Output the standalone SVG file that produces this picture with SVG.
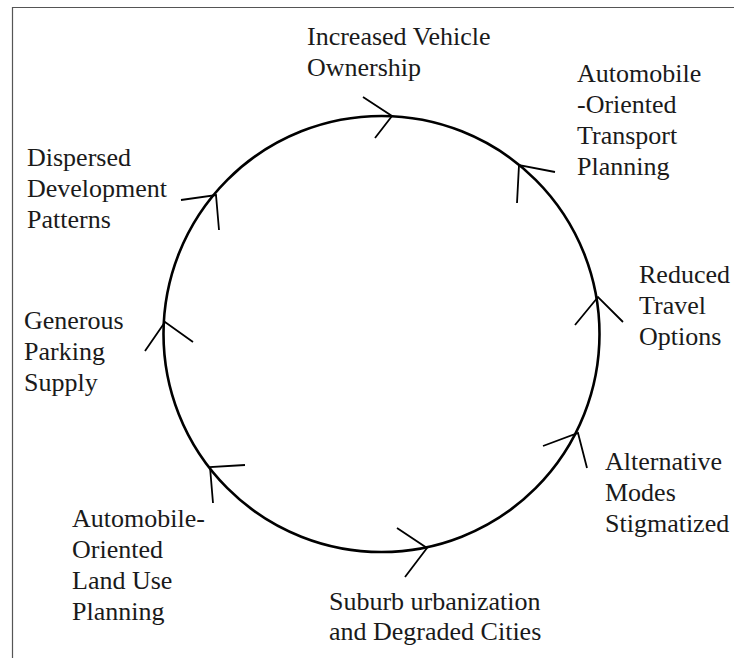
<svg xmlns="http://www.w3.org/2000/svg" width="734" height="658" viewBox="0 0 734 658">
<rect width="734" height="658" fill="#fff"/>
<path d="M12.5,658 V7.5 H734" fill="none" stroke="#555" stroke-width="1.2"/>
<g id="connectors" fill="none" stroke="#000">
<circle cx="381.5" cy="334" r="218" stroke-width="2.6"/>
<g stroke-width="1.8">
<path d="M363,97 L392,116 L375,138"/>
<path d="M555,172 L519,165 L517,203"/>
<path d="M575,325 L598,297 L623,322"/>
<path d="M543,446 L578,433 L587,468"/>
<path d="M397,528 L427,548 L405,577"/>
<path d="M245,465 L210,467 L213,503"/>
<path d="M145,351 L165,322 L193,342"/>
<path d="M181,200 L216,195 L219,230"/>
</g>
</g>
<g id="labels" fill="#1a1a1a">
<g id="n1"><text style="font-family:'Liberation Serif' !important;font-size:26px !important" x="307" y="45">Increased Vehicle</text><text style="font-family:'Liberation Serif' !important;font-size:26px !important" x="307" y="76">Ownership</text></g>
<g id="n2"><text style="font-family:'Liberation Serif' !important;font-size:26px !important" x="577" y="82">Automobile</text><text style="font-family:'Liberation Serif' !important;font-size:26px !important" x="577" y="113">-Oriented</text><text style="font-family:'Liberation Serif' !important;font-size:26px !important" x="577" y="144">Transport</text><text style="font-family:'Liberation Serif' !important;font-size:26px !important" x="577" y="175">Planning</text></g>
<g id="n3"><text style="font-family:'Liberation Serif' !important;font-size:26px !important" x="639" y="283">Reduced</text><text style="font-family:'Liberation Serif' !important;font-size:26px !important" x="639" y="314">Travel</text><text style="font-family:'Liberation Serif' !important;font-size:26px !important" x="639" y="345">Options</text></g>
<g id="n4"><text style="font-family:'Liberation Serif' !important;font-size:26px !important" x="605" y="470">Alternative</text><text style="font-family:'Liberation Serif' !important;font-size:26px !important" x="605" y="501">Modes</text><text style="font-family:'Liberation Serif' !important;font-size:26px !important" x="605" y="532">Stigmatized</text></g>
<g id="n5"><text style="font-family:'Liberation Serif' !important;font-size:26px !important" x="329" y="610">Suburb urbanization</text><text style="font-family:'Liberation Serif' !important;font-size:26px !important" x="329" y="640">and Degraded Cities</text></g>
<g id="n6"><text style="font-family:'Liberation Serif' !important;font-size:26px !important" x="72" y="527">Automobile-</text><text style="font-family:'Liberation Serif' !important;font-size:26px !important" x="72" y="558">Oriented</text><text style="font-family:'Liberation Serif' !important;font-size:26px !important" x="72" y="589">Land Use</text><text style="font-family:'Liberation Serif' !important;font-size:26px !important" x="72" y="620">Planning</text></g>
<g id="n7"><text style="font-family:'Liberation Serif' !important;font-size:26px !important" x="24" y="329">Generous</text><text style="font-family:'Liberation Serif' !important;font-size:26px !important" x="24" y="360">Parking</text><text style="font-family:'Liberation Serif' !important;font-size:26px !important" x="24" y="391">Supply</text></g>
<g id="n8"><text style="font-family:'Liberation Serif' !important;font-size:26px !important" x="27" y="166">Dispersed</text><text style="font-family:'Liberation Serif' !important;font-size:26px !important" x="27" y="197">Development</text><text style="font-family:'Liberation Serif' !important;font-size:26px !important" x="27" y="228">Patterns</text></g>
</g>
</svg>
